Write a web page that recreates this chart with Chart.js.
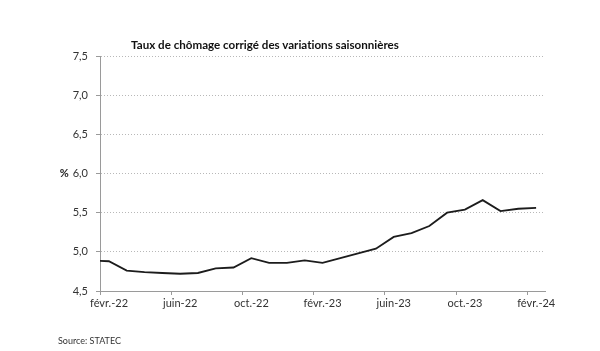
<!DOCTYPE html>
<html lang="fr">
<head>
<meta charset="utf-8">
<title>Taux de chômage corrigé des variations saisonnières</title>
<script src="https://cdn.jsdelivr.net/npm/chart.js@4.4.1/dist/chart.umd.min.js"></script>
<style>
  html, body { margin: 0; padding: 0; background: #fff; }
  .wrap { position: relative; width: 600px; height: 351px; }
  .title {
    position: absolute; left: 0; width: 530px; top: 38px;
    text-align: center; color: #111;
    font: bold 11.6px Lato, sans-serif;
    font-variant-ligatures: none;
  }
  .source {
    position: absolute; left: 58px; top: 335px; color: #333;
    font: 9px Lato, "Open Sans", sans-serif;
  }
</style>
</head>
<body>
<div class="wrap">
  <canvas id="chart"></canvas>
  <div class="title">Taux de chômage corrigé des variations saisonnières</div>
  <div class="source">Source: STATEC</div>
</div>
<script>
// monthly series, janv.-22 .. févr.-24 (first month sits just left of the axis)
const months = [
  'janv.-22', 'févr.-22', 'mars-22', 'avr.-22', 'mai-22', 'juin-22',
  'juil.-22', 'août-22', 'sept.-22', 'oct.-22', 'nov.-22', 'déc.-22',
  'janv.-23', 'févr.-23', 'mars-23', 'avr.-23', 'mai-23', 'juin-23',
  'juil.-23', 'août-23', 'sept.-23', 'oct.-23', 'nov.-23', 'déc.-23',
  'janv.-24', 'févr.-24'
];
const rates = [
  4.89, 4.88, 4.76, 4.74, 4.73, 4.72, 4.73, 4.79, 4.80, 4.92, 4.86, 4.86,
  4.89, 4.86, 4.92, 4.98, 5.04, 5.19, 5.24, 5.33, 5.50, 5.54, 5.66, 5.52,
  5.55, 5.56
];
const yMin = 4.5;
const yMax = 7.5;
const yStep = 0.5;
const labelEvery = 4; // one label every 4 months, starting at févr.-22
const yUnit = '%';

const tickFont = { family: "Lato, 'Open Sans', sans-serif", size: 11 };
const tickColor = '#333';
const axisColor = '#9a9a9a';

const unitLabel = {
  id: 'unitLabel',
  afterDraw(chart) {
    const y = chart.scales.y;
    const ctx = chart.ctx;
    ctx.save();
    ctx.font = `${tickFont.size}px ${tickFont.family}`;
    const w = ctx.measureText('6,0').width;
    ctx.font = `bold ${tickFont.size}px ${tickFont.family}`;
    ctx.fillStyle = '#222';
    ctx.textAlign = 'right';
    ctx.textBaseline = 'middle';
    ctx.fillText(yUnit, y.right - 4 - 8 - w - 4, y.getPixelForValue(6.0));
    ctx.restore();
  },
};

new Chart(document.getElementById('chart'), {
  type: 'line',
  data: {
    datasets: [{
      label: 'Taux de chômage',
      data: rates.map((v, i) => ({ x: i, y: v })),
      borderColor: '#1c1c1c',
      borderWidth: 1.8,
      pointRadius: 0,
      tension: 0,
      fill: false,
    }],
  },
  options: {
    responsive: true,
    maintainAspectRatio: false,
    animation: false,
    layout: { padding: { top: 56, right: 55, left: 0, bottom: 0 } },
    plugins: {
      legend: { display: false },
      title: { display: false },
      tooltip: { enabled: false },
    },
    scales: {
      x: {
        type: 'linear',
        min: 0.5,
        max: months.length - 0.5,
        afterBuildTicks: (scale) => {
          scale.ticks = months
            .map((m, i) => i)
            .filter((i) => i >= 1 && (i - 1) % labelEvery === 0)
            .map((i) => ({ value: i - 0.5 }));
        },
        afterFit: (scale) => { scale.height = 60; },
        ticks: {
          callback: (v) => months[Math.round(v + 0.5)],
          autoSkip: false,
          maxRotation: 0,
          labelOffset: 9,
          padding: 2,
          font: tickFont,
          color: tickColor,
        },
        grid: {
          drawOnChartArea: false,
          drawTicks: true,
          tickLength: 4,
          tickColor: axisColor,
        },
        border: { display: true, color: axisColor, width: 1 },
      },
      y: {
        min: yMin,
        max: yMax,
        afterFit: (scale) => { scale.width = 100; },
        ticks: {
          stepSize: yStep,
          callback: (v) => v.toFixed(1).replace('.', ','),
          padding: 8,
          font: tickFont,
          color: tickColor,
        },
        grid: {
          color: '#b8b8b8',
          lineWidth: 1,
          tickLength: 4,
          tickColor: axisColor,
          tickBorderDash: [],
        },
        border: { display: true, color: axisColor, width: 1, dash: [1, 2] },
      },
    },
  },
  plugins: [unitLabel],
});
</script>
</body>
</html>
